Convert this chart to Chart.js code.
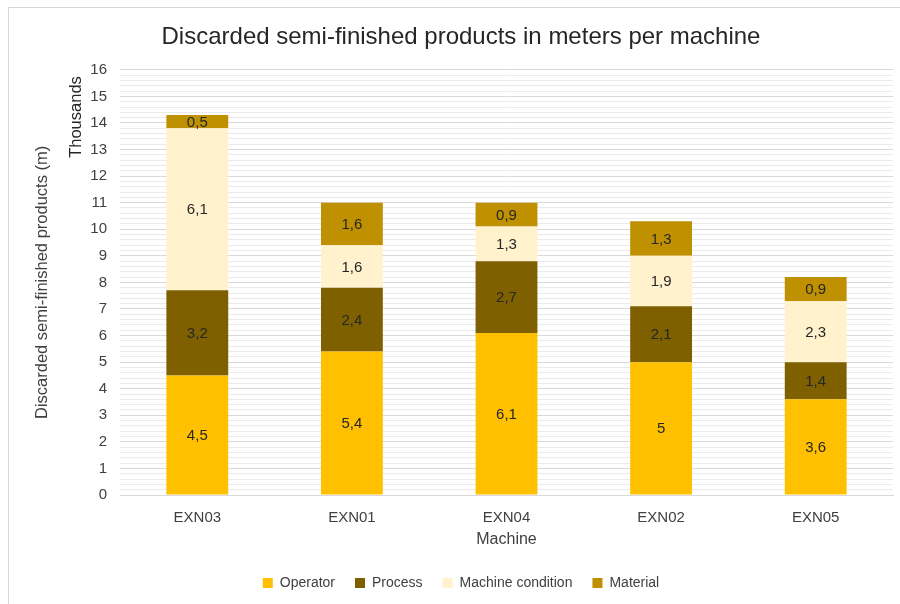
<!DOCTYPE html>
<html>
<head>
<meta charset="utf-8">
<script src="https://cdn.jsdelivr.net/npm/chart.js@4/dist/chart.umd.min.js"></script>
<style>
  html, body { margin: 0; padding: 0; background: #fff; overflow: hidden; width: 900px; height: 604px; }
  .frame { position: absolute; left: 8px; top: 7px; width: 1000px; height: 1000px; border: 1px solid #d9d9d9; }
  #wrap { position: absolute; left: 0; top: 0; width: 900px; height: 600px; }
</style>
</head>
<body>
<div class="frame"></div>
<div id="wrap"><canvas id="scrapChart"></canvas></div>
<script>
// Machines (x axis) and discarded meters per cause, in thousands
const machines = ['EXN03', 'EXN01', 'EXN04', 'EXN02', 'EXN05'];
const operatorVals = [4.5, 5.4, 6.1, 5, 3.6];
const processVals = [3.2, 2.4, 2.7, 2.1, 1.4];
const machineCondVals = [6.1, 1.6, 1.3, 1.9, 2.3];
const materialVals = [0.5, 1.6, 0.9, 1.3, 0.9];

const FONT = 'Liberation Sans, Arial, sans-serif';

// draw the value of each stacked segment in its middle, with a decimal comma
const segmentLabels = {
    id: 'segmentLabels',
    afterDatasetsDraw(chart) {
        const ctx = chart.ctx;
        ctx.save();
        ctx.font = '15px ' + FONT;
        ctx.fillStyle = '#262626';
        ctx.textAlign = 'center';
        ctx.textBaseline = 'middle';
        chart.data.datasets.forEach((ds, i) => {
            const meta = chart.getDatasetMeta(i);
            if (meta.hidden) return;
            meta.data.forEach((bar, j) => {
                const p = bar.getCenterPoint();
                ctx.fillText(String(ds.data[j]).replace('.', ','), p.x, p.y + 1);
            });
        });
        ctx.restore();
    }
};

// "Thousands" unit label next to the y ticks
const unitLabel = {
    id: 'unitLabel',
    afterDraw(chart) {
        const ctx = chart.ctx;
        ctx.save();
        ctx.translate(76, 117);
        ctx.rotate(-Math.PI / 2);
        ctx.font = '16.5px ' + FONT;
        ctx.fillStyle = '#262626';
        ctx.textAlign = 'center';
        ctx.textBaseline = 'middle';
        ctx.fillText('Thousands', 0, 0);
        ctx.restore();
    }
};

new Chart(document.getElementById('scrapChart'), {
    type: 'bar',
    data: {
        labels: machines,
        datasets: [
            { label: 'Operator', data: operatorVals, backgroundColor: '#ffc000' },
            { label: 'Process', data: processVals, backgroundColor: '#7f6000' },
            { label: 'Machine condition', data: machineCondVals, backgroundColor: '#fff2cc' },
            { label: 'Material', data: materialVals, backgroundColor: '#bf9000' }
        ]
    },
    options: {
        responsive: true,
        maintainAspectRatio: false,
        animation: false,
        datasets: {
            bar: { barPercentage: 0.4, categoryPercentage: 1 }
        },
        layout: { padding: { left: 29, right: 7, top: 0, bottom: 0 } },
        plugins: {
            title: {
                display: true,
                text: 'Discarded semi-finished products in meters per machine',
                color: '#262626',
                font: { family: FONT, size: 24, weight: 'normal' },
                padding: { top: 23, bottom: 18 }
            },
            legend: {
                position: 'bottom',
                labels: {
                    boxWidth: 10,
                    boxHeight: 10,
                    padding: 20,
                    color: '#404040',
                    font: { family: FONT, size: 14 }
                }
            },
            tooltip: { enabled: false }
        },
        scales: {
            x: {
                stacked: true,
                grid: { display: false },
                border: { color: '#d9d9d9' },
                ticks: { color: '#404040', padding: 6, font: { family: FONT, size: 15 } },
                title: {
                    display: true,
                    text: 'Machine',
                    color: '#404040',
                    font: { family: FONT, size: 16 },
                    padding: { top: 0, bottom: 7 }
                },
                afterFit(scale) { scale.height = 61; }
            },
            y: {
                stacked: true,
                min: 0,
                max: 16,
                border: { display: false },
                grid: {
                    drawTicks: false,
                    color: (c) => Number.isInteger(c.tick.value) ? '#d9d9d9' : '#ebebeb'
                },
                ticks: {
                    stepSize: 0.2,
                    autoSkip: false,
                    padding: 13,
                    color: '#404040',
                    font: { family: FONT, size: 15 },
                    callback: (v) => Number.isInteger(v) ? v : ''
                },
                title: {
                    display: true,
                    text: 'Discarded semi-finished products (m)',
                    color: '#404040',
                    font: { family: FONT, size: 16.5 },
                    padding: { top: 4, bottom: 0 }
                },
                afterFit(scale) { scale.width = 91; }
            }
        }
    },
    plugins: [segmentLabels, unitLabel]
});
</script>
</body>
</html>
